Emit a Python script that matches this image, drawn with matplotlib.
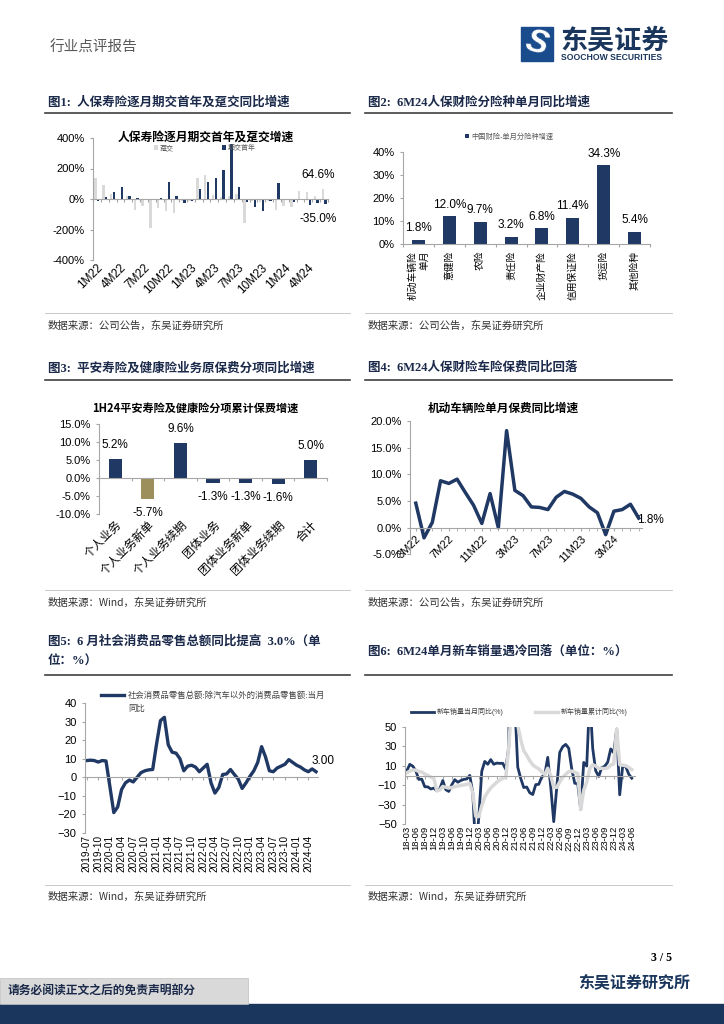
import numpy as np
import pandas as pd
import matplotlib.pyplot as plt
from matplotlib.patches import Rectangle
from matplotlib.lines import Line2D

plt.rcParams.update({
    "font.family": ["Liberation Sans", "Noto Sans CJK SC"],
    "font.size": 8,
    "axes.linewidth": 0.8,
    "axes.edgecolor": "#A6A6A6",
    "xtick.color": "#A6A6A6",
    "ytick.color": "#A6A6A6",
    "xtick.labelcolor": "black",
    "ytick.labelcolor": "black",
    "xtick.major.size": 2.5,
    "ytick.major.size": 2.5,
    "xtick.minor.size": 2.5,
    "xtick.major.width": 0.8,
    "ytick.major.width": 0.8,
})

W, H = 724, 1024
NAVY = "#1F3864"
LGRAY = "#D9D9D9"
OLIVE = "#9C8F5B"
CJK = ["Noto Sans CJK SC"]
SERIF = ["Liberation Serif", "Noto Sans CJK SC"]

# fig 1: life insurance, monthly yoy (%)
months1 = [f"{m}M{y}" for y in (22, 23, 24) for m in range(1, 13)][:30]
dunjiao = [138, 94, 33, -8, 22, -70, -48, -190, -59, -80, -92, -10, -15, 138, 160,
           26, 12, 22, 35, -157, -10, -20, -10, -70, -44, -52, 50, 45, 20, 64.6]
qijiao = [-10, 13, 44, 79, 17, 7, -2, 2, 9, 111, 22, -26, -15, 64, 109,
          138, 192, 360, 77, -22, -52, -77, -15, 105, -3, -17, 2, -40, -26, -35.0]

# fig 2: property insurance by line, 6M24 yoy (%)
prop_cats = ["机动车辆险\n单月", "意健险", "农险", "责任险", "企业财产险", "信用保证险", "货运险", "其他险种"]
prop_vals = [1.8, 12.0, 9.7, 3.2, 6.8, 11.4, 34.3, 5.4]

# fig 3: Ping An life 1H24 (%)
pa_cats = ["个人业务", "个人业务新单", "个人业务续期", "团体业务", "团体业务新单", "团体业务续期", "合计"]
pa_vals = [5.2, -5.7, 9.6, -1.3, -1.3, -1.6, 5.0]

# fig 4: motor insurance monthly yoy (%), 3M22-6M24
months4 = [f"{m}M{y}" for y in (22, 23, 24) for m in range(1, 13)][2:30]
motor = [4.6, -1.9, 1.0, 8.8, 8.3, 9.1, 6.6, 4.2, 0.8, 6.4, 0.0, 18.2, 7.0, 6.0,
         3.9, 3.8, 3.4, 5.7, 6.8, 6.3, 5.5, 3.9, 2.8, -1.3, 3.1, 3.4, 4.4, 1.8]

# fig 5: retail sales ex-auto, monthly yoy
months5 = list(pd.period_range("2019-07", "2024-06", freq="M").strftime("%Y-%m"))
retail = [9.0, 9.2, 9.0, 8.2, 9.0, 8.8,
          -5.0, -19.0, -16.0, -6.6, -3.0, -1.5, -2.5, 0.0, 2.5, 3.5, 4.0, 4.2,
          18.0, 30.5, 32.3, 17.5, 13.5, 13.0, 10.0, 3.5, 6.0, 6.5, 5.5, 3.0,
          5.0, 7.0, -3.0, -8.5, -5.5, 1.5, 1.8, 4.2, 1.5, -1.0, -6.0, -3.0,
          0.5, 3.5, 8.0, 16.5, 11.0, 3.5, 3.0, 5.0, 6.0, 7.0, 9.5, 8.0,
          6.5, 5.5, 4.0, 3.0, 4.5, 3.0]

# fig 6: new car sales yoy (%), 2018-03 to 2024-06
months6 = list(pd.period_range("2018-03", "2024-06", freq="M").strftime("%y-%m"))
car_month = [4.7, 11.5, 9.6, 4.8, -4.0, -3.8, -11.6, -11.7, -13.9, -13.0,
             -15.8, -13.8, -5.2, -14.6, -16.4, -9.6, -4.3, -6.9, -5.2, -4.0, -3.6, 0.1,
             -18.0, -79.1, -43.3, 4.4, 14.5, 11.6, 16.4, 11.6, 12.8, 12.5, 12.6, 6.4,
             29.5, 365.0, 74.9, 8.6, -3.1, -12.4, -11.9, -17.8, -19.6, -9.4, -9.1, -1.6,
             0.9, 18.7, -11.7, -47.6, -12.6, 23.8, 29.7, 32.1, 28.1, 6.9, -8.0, -8.4,
             -35.0, 13.5, 9.7, 82.7, 27.9, 4.8, -1.0, 8.2, 9.5, 13.8, 27.4, 23.5,
             47.9, -19.9, 9.9, 9.3, 1.5, -2.7]
car_cum = [2.8, 4.5, 5.6, 5.6, 4.2, 3.5, 1.5, 0.1, -1.7, -2.8,
           -15.8, -14.9, -11.3, -12.1, -12.9, -12.4, -11.4, -10.9, -10.3, -9.7, -9.1, -8.2,
           -18.0, -42.0, -42.4, -31.1, -22.2, -16.9, -12.8, -9.9, -6.9, -4.7, -2.9, -1.9,
           29.5, 76.2, 75.6, 51.8, 36.6, 25.6, 20.7, 15.3, 11.0, 8.7, 6.9, 3.8,
           0.9, 7.5, 0.0, -12.1, -12.2, -6.6, -1.9, 1.2, 4.0, 4.6, 3.3, 2.1,
           -35.0, -15.2, -6.7, 7.1, 11.1, 9.8, 7.3, 7.4, 7.1, 8.0, 10.8, 12.0,
           47.9, 11.1, 10.6, 10.2, 8.3, 6.1]

fig = plt.figure(figsize=(W / 100, H / 100), dpi=100)


def box(x0, y0, x1, y1):
    return [x0 / W, 1 - y1 / H, (x1 - x0) / W, (y1 - y0) / H]


def ftext(x, y, s, **kw):
    kw.setdefault("va", "center")
    fig.text(x / W, 1 - y / H, s, **kw)


def hline(y, x0, x1, **kw):
    fig.add_artist(Line2D([x0 / W, x1 / W], [1 - y / H] * 2, **kw))


def frame(ax):
    for s in ["top", "right"]:
        ax.spines[s].set_visible(False)
    ax.spines["bottom"].set_position(("data", 0))


def bottom_labels(ax, ticks, labels, pad=1.5, **kw):
    lab = ax.secondary_xaxis("bottom")
    lab.set_ticks(ticks, labels, **kw)
    lab.spines["bottom"].set_visible(False)
    lab.tick_params(length=0, pad=pad)
    return lab


# ---- page furniture ----
ftext(50, 48, "行业点评报告", fontsize=10.5, color="#595959", family=CJK)
fig.add_artist(Rectangle((521 / W, 1 - 61 / H), 32 / W, 34 / H, transform=fig.transFigure,
                         color="#1A4B8C"))
ftext(537, 44, "S", ha="center", fontsize=24, weight="bold", style="italic", color="white",
      rotation=-15)
ftext(560, 40, "东吴证券", fontsize=19.5, weight="bold", color="#1B365D", family=CJK)
ftext(561, 57, "SOOCHOW SECURITIES", fontsize=6.2, weight="bold", color="#1B365D")

cap = dict(fontsize=9, weight="bold", family=SERIF, color="#1B2A4A")
ftext(48, 102, "图1:  人保寿险逐月期交首年及趸交同比增速", **cap)
ftext(368, 102, "图2:  6M24人保财险分险种单月同比增速", **cap)
ftext(48, 368, "图3:  平安寿险及健康险业务原保费分项同比增速", **cap)
ftext(368, 368, "图4:  6M24人保财险车险保费同比回落", **cap)
ftext(48, 642, "图5:  6 月社会消费品零售总额同比提高  3.0%（单", **cap)
ftext(48, 662, "位：%）", **cap)
ftext(368, 652, "图6:  6M24单月新车销量遇冷回落（单位：%）", **cap)
for y in (113, 380, 675):
    hline(y, 45, 350, color="#404040", lw=1.2)
    hline(y, 365, 672, color="#404040", lw=1.2)

src = dict(fontsize=7.5, color="#333333", family=CJK)
ftext(48, 326, "数据来源：公司公告，东吴证券研究所", **src)
ftext(368, 326, "数据来源：公司公告，东吴证券研究所", **src)
ftext(48, 603, "数据来源：Wind，东吴证券研究所", **src)
ftext(368, 603, "数据来源：公司公告，东吴证券研究所", **src)
ftext(48, 897, "数据来源：Wind，东吴证券研究所", **src)
ftext(368, 897, "数据来源：Wind，东吴证券研究所", **src)
for y in (313, 590, 885):
    hline(y, 45, 350, color="#BFBFBF", lw=0.6)
    hline(y, 365, 672, color="#BFBFBF", lw=0.6)

ftext(672, 958, "3 / 5", ha="right", fontsize=8.5, weight="bold", family=SERIF)
ftext(690, 982, "东吴证券研究所", ha="right", fontsize=11.5, weight="bold", color="#1B365D", family=CJK)
fig.add_artist(Rectangle((0, 0), 1, 20 / H, transform=fig.transFigure, color="#1B365D"))
fig.add_artist(Rectangle((0, 1 - 1004 / H), 248 / W, 26 / H, transform=fig.transFigure,
                         facecolor="#D9D9D9", edgecolor="#BFBFBF", lw=0.5))
ftext(8, 991, "请务必阅读正文之后的免责声明部分", fontsize=8.5, weight="bold", color="#1B2A4A", family=CJK)

# ---- fig 1 ----
ax1 = fig.add_axes(box(93, 138, 328, 260))
x1 = np.arange(len(months1))
ax1.bar(x1 - 0.17, dunjiao, 0.3, color=LGRAY, label="趸交")
ax1.bar(x1 + 0.17, qijiao, 0.3, color=NAVY, label="期交首年")
ax1.set_xlim(-0.5, len(months1) - 0.5)
ax1.set_ylim(-400, 400)
ax1.set_yticks([-400, -200, 0, 200, 400], [f"{v}%" for v in [-400, -200, 0, 200, 400]])
frame(ax1)
ax1.set_xticks(np.arange(-0.5, len(months1), 1))
ax1.tick_params(axis="x", labelbottom=False)
bottom_labels(ax1, x1[::3], months1[::3], rotation=45, ha="right", rotation_mode="anchor",
              fontsize=8.5)
ax1.annotate(f"{dunjiao[-1]:.1f}%", (x1[-1] - 0.17, dunjiao[-1]), xytext=(9, 10),
             textcoords="offset points", ha="right", va="center", fontsize=8.5)
ax1.annotate(f"{qijiao[-1]:.1f}%", (x1[-1] + 0.17, qijiao[-1]), xytext=(8, -10.5),
             textcoords="offset points", ha="right", va="center", fontsize=8.5)
ftext(206, 137, "人保寿险逐月期交首年及趸交增速", ha="center", fontsize=8.5, weight="bold", family=CJK)
ax1.legend(loc="center left", bbox_to_anchor=(154 / W, 1 - 148.5 / H), bbox_transform=fig.transFigure,
           ncol=2, frameon=False, fontsize=5, handlelength=0.6, handleheight=0.6,
           handletextpad=0.2, columnspacing=7, labelcolor="#595959", borderpad=0, borderaxespad=0)

# ---- fig 2 ----
ax2 = fig.add_axes(box(403, 152, 650, 244))
x2 = np.arange(len(prop_cats))
b2 = ax2.bar(x2, prop_vals, 0.42, color=NAVY, label="中国财险-单月分险种增速")
ax2.bar_label(b2, labels=[f"{v:.1f}%" for v in prop_vals], padding=4, fontsize=8.5)
ax2.set_ylim(0, 40)
ax2.set_yticks(range(0, 41, 10), [f"{v}%" for v in range(0, 41, 10)])
ax2.set_xlim(-0.5, len(prop_cats) - 0.5)
frame(ax2)
ax2.set_xticks(np.arange(-0.5, len(prop_cats), 1))
ax2.tick_params(axis="x", labelbottom=False)
bottom_labels(ax2, x2, prop_cats, pad=5, rotation=90, ha="center", va="top",
              multialignment="right", family=CJK, fontsize=7)
ax2.legend(loc="center left", bbox_to_anchor=(465 / W, 1 - 137 / H), bbox_transform=fig.transFigure,
           frameon=False, fontsize=5.2, handlelength=0.6, handleheight=0.6, handletextpad=0.3,
           labelcolor="#595959", borderpad=0, borderaxespad=0)

# ---- fig 3 ----
ax3 = fig.add_axes(box(99, 424, 327, 514))
x3 = np.arange(len(pa_cats))
colors3 = [OLIVE if c == "个人业务新单" else NAVY for c in pa_cats]
b3 = ax3.bar(x3, pa_vals, 0.4, color=colors3)
ax3.bar_label(b3, labels=[f"{v:.1f}%" for v in pa_vals], padding=6, fontsize=8.5)
ax3.set_ylim(-10, 15)
ax3.set_yticks(range(-10, 16, 5), [f"{v:.1f}%" for v in range(-10, 16, 5)])
ax3.set_xlim(-0.5, len(pa_cats) - 0.5)
frame(ax3)
ax3.set_xticks(np.arange(-0.5, len(pa_cats), 1))
ax3.tick_params(axis="x", labelbottom=False)
bottom_labels(ax3, x3, pa_cats, pad=3, rotation=45, ha="right", rotation_mode="anchor",
              family=CJK, fontsize=8.5)
ftext(195, 408, "1H24平安寿险及健康险分项累计保费增速", ha="center", fontsize=8, weight="bold", family=CJK)

# ---- fig 4 ----
ax4 = fig.add_axes(box(410, 421, 642, 554.4))
x4 = np.arange(len(months4))
ax4.plot(x4, motor, color=NAVY, lw=2.5, solid_joinstyle="round")
ax4.set_xlim(-0.7, len(months4) - 0.6)
ax4.set_ylim(-5, 20)
ax4.set_yticks(range(-5, 21, 5), [f"{v:.1f}%" for v in range(-5, 21, 5)])
frame(ax4)
ax4.set_xticks(x4, minor=True)
ax4.set_xticks(x4[::4], months4[::4], rotation=45, ha="right", rotation_mode="anchor")
ax4.tick_params(axis="x", which="both", pad=2)
ax4.annotate(f"{motor[-1]:.1f}%", (x4[-1], motor[-1]), xytext=(-1, -1), textcoords="offset points",
             ha="left", va="center", fontsize=8.5)
ftext(503, 408, "机动车辆险单月保费同比增速", ha="center", fontsize=8.4, weight="bold", family=CJK)

# ---- fig 5 ----
ax5 = fig.add_axes(box(85, 703, 318, 833))
x5 = np.arange(len(months5))
l5, = ax5.plot(x5, retail, color=NAVY, lw=2.4, solid_joinstyle="round")
ax5.set_xlim(-0.4, len(months5) - 0.5)
ax5.set_ylim(-30, 40)
ax5.set_yticks(range(-30, 41, 10))
frame(ax5)
ax5.set_xticks(x5[::3])
ax5.tick_params(axis="x", labelbottom=False)
bottom_labels(ax5, x5[::3], months5[::3], rotation=90, ha="center", va="top", fontsize=7.2)
ax5.annotate(f"{retail[-1]:.2f}", (x5[-1], retail[-1]), xytext=(-3, 8), textcoords="offset points",
             ha="left", va="center", fontsize=8.5)
ax5.legend([l5], ["社会消费品零售总额:除汽车以外的消费品零售额:当月"], loc="center left",
           bbox_to_anchor=(101 / W, 1 - 696 / H), bbox_transform=fig.transFigure, frameon=False,
           fontsize=6, handlelength=2.8, handletextpad=0.4, labelcolor="#404040",
           borderpad=0, borderaxespad=0)
ftext(128, 708, "同比", fontsize=6, color="#404040", family=CJK)

# ---- fig 6 ----
ax6 = fig.add_axes(box(405, 727, 635, 824))
x6 = np.arange(len(months6))
ax6.plot(x6, car_month, color=NAVY, lw=2.0, label="新车销量当月同比(%)")
ax6.plot(x6, car_cum, color=LGRAY, lw=2.5, label="新车销量累计同比(%)")
ax6.set_xlim(-0.6, len(months6) + 0.1)
ax6.set_ylim(-50, 50)
ax6.set_yticks([-50, -30, -10, 10, 30, 50])
frame(ax6)
ax6.set_xticks(x6[::3])
ax6.tick_params(axis="x", labelbottom=False)
bottom_labels(ax6, x6[::3], months6[::3], rotation=90, ha="center", va="top", fontsize=6.8)
ax6.legend(loc="center left", bbox_to_anchor=(411 / W, 1 - 712 / H), bbox_transform=fig.transFigure,
           ncol=2, frameon=False, fontsize=5, handlelength=3.3, handletextpad=0.4, columnspacing=4.5,
           labelcolor="#404040", borderpad=0, borderaxespad=0)

fig.savefig("out.png", dpi=100)
